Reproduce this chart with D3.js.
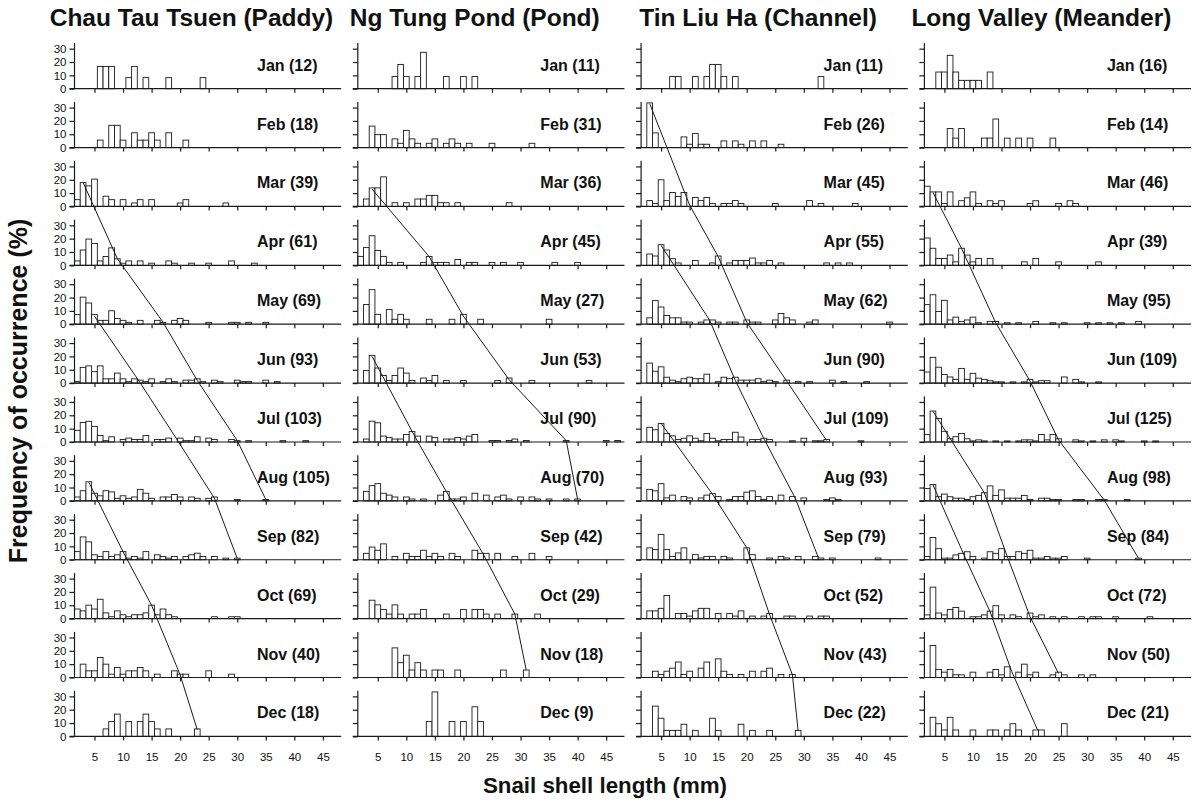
<!DOCTYPE html>
<html>
<head>
<meta charset="utf-8">
<script src="https://cdn.jsdelivr.net/npm/d3@7"></script>
<style>
  body { margin: 0; background: #fff; }
  text { font-family: "Liberation Sans", Arial, Helvetica, sans-serif; fill: #111; }
</style>
</head>
<body>
<svg id="chart" width="1198" height="803"></svg>
<script>
// ---- data -----------------------------------------------------------------
const months = ["Jan","Feb","Mar","Apr","May","Jun","Jul","Aug","Sep","Oct","Nov","Dec"];
const sites = ["Chau Tau Tsuen (Paddy)", "Ng Tung Pond (Pond)", "Tin Liu Ha (Channel)", "Long Valley (Meander)"];
const lengthTicks = [5, 10, 15, 20, 25, 30, 35, 40, 45];
const freqTicks = [0, 10, 20, 30];

// sample sizes per month
const paddyN   = [12, 18, 39, 61, 69, 93, 103, 105, 82, 69, 40, 18];
const pondN    = [11, 31, 36, 45, 27, 53, 90, 70, 42, 29, 18, 9];
const channelN = [11, 26, 45, 55, 62, 90, 109, 93, 79, 52, 43, 22];
const meanderN = [16, 14, 46, 39, 95, 109, 125, 98, 84, 72, 50, 21];

// monthly length-frequency: [shell length (mm), frequency (%)]
const paddyFreq = [
  [[6,16.7],[7,16.7],[8,16.7],[11,8.3],[12,16.7],[14,8.3],[18,8.3],[24,8.3]],
  [[6,5.6],[8,16.7],[9,16.7],[10,5.6],[12,11.1],[13,5.6],[14,5.6],[15,11.1],[16,5.6],[18,11.1],[21,5.6]],
  [[2,5.1],[3,17.9],[4,15.4],[5,20.5],[7,7.7],[8,5.1],[10,5.1],[12,2.6],[13,5.1],[15,5.1],[20,2.6],[21,5.1],[28,2.6]],
  [[2,3.3],[3,11.5],[4,19.7],[5,16.4],[6,3.3],[7,6.6],[8,13.1],[9,4.9],[10,1.6],[11,3.3],[13,3.3],[15,1.6],[18,3.3],[19,1.6],[22,1.6],[25,1.6],[29,3.3],[33,1.6]],
  [[2,7.2],[3,20.3],[4,15.9],[5,7.2],[6,2.9],[7,2.9],[8,10.1],[9,4.3],[10,2.9],[11,1.4],[13,2.9],[16,2.9],[17,1.4],[19,2.9],[20,4.3],[21,2.9],[25,1.4],[29,1.4],[30,1.4],[32,1.4],[35,1.4]],
  [[2,1.1],[3,11.8],[4,12.9],[5,8.6],[6,12.9],[7,3.2],[8,3.2],[9,7.5],[10,3.2],[11,1.1],[12,3.2],[13,2.2],[14,1.1],[15,3.2],[17,1.1],[18,3.2],[19,1.1],[21,2.2],[22,2.2],[23,3.2],[24,1.1],[26,2.2],[27,1.1],[30,2.2],[31,1.1],[32,1.1],[35,2.2],[37,1.1]],
  [[2,8.7],[3,14.6],[4,15.5],[5,11.7],[6,4.9],[7,1],[8,3.9],[10,1.9],[11,2.9],[12,1.9],[13,1.9],[14,4.9],[16,1.9],[17,1.9],[18,2.9],[20,2.9],[21,1],[22,1],[23,3.9],[25,2.9],[26,1.9],[29,1.9],[30,1],[32,1],[38,1],[42,1]],
  [[2,2.9],[3,7.6],[4,14.3],[5,5.7],[6,3.8],[7,7.6],[8,6.7],[9,1.9],[10,3.8],[11,1.9],[12,2.9],[13,8.6],[14,5.7],[15,1.9],[17,2.9],[18,2.9],[19,4.8],[20,2.9],[22,2.9],[23,1.9],[25,1.9],[26,2.9],[30,1],[35,1]],
  [[2,6.1],[3,17.1],[4,13.4],[5,3.7],[6,2.4],[7,6.1],[8,2.4],[9,3.7],[10,6.1],[11,1.2],[12,2.4],[13,1.2],[14,6.1],[16,3.7],[17,2.4],[18,1.2],[19,2.4],[21,2.4],[22,3.7],[23,4.9],[24,2.4],[26,2.4],[28,1.2],[30,1.2]],
  [[2,7.2],[3,5.8],[4,10.1],[5,7.2],[6,14.5],[7,4.3],[8,1.4],[9,5.8],[10,2.9],[11,1.4],[12,2.9],[13,2.9],[14,4.3],[15,10.1],[16,2.9],[17,7.2],[18,2.9],[19,1.4],[26,1.4],[29,1.4],[30,1.4]],
  [[3,10],[4,5],[5,5],[6,15],[7,10],[8,2.5],[9,7.5],[10,2.5],[11,5],[12,5],[13,7.5],[14,5],[16,2.5],[19,5],[20,2.5],[21,2.5],[25,5],[29,2.5]],
  [[7,5.6],[8,11.1],[9,16.7],[11,11.1],[13,11.1],[14,16.7],[15,11.1],[16,5.6],[18,5.6],[23,5.6]]
];

const pondFreq = [
  [[8,9.1],[9,18.2],[10,9.1],[12,9.1],[13,27.3],[17,9.1],[20,9.1],[22,9.1]],
  [[4,16.1],[5,9.7],[6,9.7],[8,6.5],[9,3.2],[10,12.9],[11,6.5],[12,3.2],[14,3.2],[15,6.5],[17,3.2],[18,6.5],[19,3.2],[21,3.2],[25,3.2],[32,3.2]],
  [[3,5.6],[4,13.9],[5,13.9],[6,22.2],[8,2.8],[10,2.8],[12,5.6],[13,5.6],[14,8.3],[15,8.3],[16,2.8],[17,2.8],[19,2.8],[28,2.8]],
  [[2,6.7],[3,13.3],[4,22.2],[5,11.1],[6,6.7],[7,2.2],[9,2.2],[13,2.2],[14,6.7],[15,2.2],[16,2.2],[17,2.2],[19,4.4],[21,2.2],[22,2.2],[25,2.2],[27,2.2],[30,2.2],[36,2.2],[40,2.2]],
  [[3,14.8],[4,25.9],[5,7.4],[7,11.1],[8,3.7],[9,7.4],[10,3.7],[14,3.7],[18,3.7],[20,7.4],[23,3.7],[35,3.7]],
  [[3,9.4],[4,20.8],[5,11.3],[6,5.7],[7,1.9],[8,5.7],[9,11.3],[10,7.5],[11,1.9],[13,3.8],[14,1.9],[15,5.7],[17,1.9],[20,1.9],[26,1.9],[28,3.8],[32,1.9],[42,1.9]],
  [[3,2.2],[4,15.6],[5,14.4],[6,4.4],[7,3.3],[8,2.2],[9,2.2],[10,5.6],[11,7.8],[12,4.4],[14,4.4],[15,3.3],[17,2.2],[18,2.2],[19,3.3],[20,2.2],[21,4.4],[22,5.6],[25,1.1],[26,1.1],[28,1.1],[29,2.2],[31,1.1],[38,1.1],[45,1.1],[47,1.1]],
  [[3,7.1],[4,11.4],[5,12.9],[6,5.7],[7,4.3],[8,2.9],[10,2.9],[11,1.4],[13,1.4],[16,4.3],[17,7.1],[18,1.4],[19,1.4],[20,2.9],[22,5.7],[24,4.3],[26,2.9],[27,4.3],[28,1.4],[30,2.9],[32,2.9],[33,1.4],[35,1.4],[38,1.4],[40,1.4]],
  [[3,4.8],[4,9.5],[5,7.1],[6,11.9],[8,2.4],[10,4.8],[11,2.4],[12,2.4],[13,7.1],[14,2.4],[15,4.8],[16,2.4],[18,4.8],[19,2.4],[22,7.1],[23,4.8],[24,4.8],[26,4.8],[29,2.4],[32,4.8],[35,2.4]],
  [[4,13.8],[5,10.3],[6,6.9],[7,3.4],[8,10.3],[9,3.4],[11,3.4],[12,3.4],[13,6.9],[17,3.4],[20,6.9],[22,6.9],[23,6.9],[24,3.4],[26,3.4],[29,3.4],[33,3.4]],
  [[8,22.2],[9,11.1],[10,16.7],[11,5.6],[12,11.1],[13,5.6],[15,5.6],[16,5.6],[19,5.6],[27,5.6],[31,5.6]],
  [[14,11.1],[15,33.3],[18,11.1],[20,11.1],[22,22.2],[23,11.1]]
];

const channelFreq = [
  [[7,9.1],[8,9.1],[11,9.1],[13,9.1],[14,18.2],[15,18.2],[16,9.1],[18,9.1],[33,9.1]],
  [[3,33.5],[4,11],[9,8],[10,2.5],[11,10.5],[12,2.5],[13,2.5],[16,5],[18,5],[19,2.5],[21,5],[23,5],[26,2.5]],
  [[3,4.4],[4,2.2],[5,20],[6,4.4],[7,10.5],[8,7.5],[9,10.5],[11,6.7],[12,4.4],[13,6.7],[14,2.2],[16,2.2],[17,2.2],[18,4.4],[19,2.2],[25,2.2],[31,4.4],[33,2.2],[39,2.2]],
  [[3,8.5],[4,7],[5,15.5],[6,11.5],[7,5],[8,1.8],[11,3.6],[14,1.8],[15,7],[17,1.8],[18,3.6],[19,3.6],[20,3.6],[21,5.5],[22,1.8],[23,1.8],[24,3.6],[26,1.8],[34,1.8],[36,1.8],[38,1.8]],
  [[3,4.8],[4,17.7],[5,12.9],[6,6.5],[7,4.8],[8,4.8],[9,1.6],[10,1.6],[12,1.6],[13,3.2],[14,3.2],[15,1.6],[17,1.6],[18,1.6],[20,3.2],[21,1.6],[22,1.6],[25,3.2],[26,8.1],[27,4.8],[28,3.2],[31,1.6],[32,3.2],[45,1.6]],
  [[3,15],[4,8.9],[5,12.2],[6,4.4],[7,2.2],[8,1.1],[9,3.3],[10,4.4],[11,3.3],[12,3.3],[13,6.7],[15,1.1],[16,4.4],[17,3.3],[18,4.4],[19,2.2],[20,2.2],[21,2.2],[22,3.3],[23,1.1],[24,2.2],[25,1.1],[27,2.2],[29,1.1],[31,1.1],[35,2.2],[37,1.1],[41,1.1]],
  [[3,11],[4,9.2],[5,13.8],[6,6.4],[7,4.6],[8,1.8],[9,2.8],[10,4.6],[11,2.8],[12,0.9],[13,6.4],[14,2.8],[15,0.9],[16,1.8],[17,1.8],[18,7.3],[19,3.7],[21,1.8],[22,1.8],[23,2.8],[24,1.8],[28,0.9],[30,2.8],[32,0.9],[33,0.9],[34,1.8],[40,0.9]],
  [[3,8.6],[4,7.5],[5,12.9],[6,2.2],[7,4.3],[9,3.2],[10,2.2],[12,2.2],[13,4.3],[14,5.4],[15,3.2],[17,1.1],[18,3.2],[19,3.2],[20,6.5],[21,7.5],[22,3.2],[23,1.1],[24,3.2],[26,4.3],[28,3.2],[30,2.2],[34,1.1],[35,2.2],[36,1.1]],
  [[3,8.9],[4,7.6],[5,19],[6,7.6],[7,2.5],[8,5.1],[9,8.9],[11,3.8],[12,1.3],[13,2.5],[14,2.5],[16,2.5],[17,1.3],[20,8.9],[21,3.8],[24,1.3],[26,2.5],[27,1.3],[29,2.5],[32,2.5],[33,1.3],[35,1.3],[43,1.3]],
  [[3,5.8],[4,5.8],[5,7.7],[6,17.3],[8,3.8],[9,3.8],[10,1.9],[11,5.8],[12,7.7],[13,7.7],[15,3.8],[17,3.8],[18,1.9],[19,5.8],[21,1.9],[23,1.9],[24,3.8],[27,1.9],[28,1.9],[31,1.9],[33,1.9],[34,1.9]],
  [[4,4.7],[5,2.3],[6,4.7],[7,7],[8,11.6],[9,2.3],[10,4.7],[12,7],[13,11.6],[15,14],[16,4.7],[17,2.3],[19,2.3],[21,4.7],[23,4.7],[24,7],[26,2.3],[28,2.3]],
  [[4,22.7],[5,13.6],[6,4.5],[7,4.5],[8,4.5],[9,9.1],[11,4.5],[14,13.6],[15,4.5],[19,9.1],[21,4.5],[24,4.5],[29,4.5]]
];

const meanderFreq = [
  [[4,12.5],[5,12.5],[6,25],[7,12.5],[8,6.25],[9,6.25],[10,6.25],[11,6.25],[13,12.5]],
  [[6,14.3],[7,7.1],[8,14.3],[12,7.1],[13,7.1],[14,21.4],[16,7.1],[18,7.1],[20,7.1],[24,7.1]],
  [[2,15.2],[3,10.9],[4,10.9],[5,2.2],[6,10.9],[8,4.3],[9,6.5],[10,10.9],[11,2.2],[13,4.3],[14,2.2],[15,4.3],[20,2.2],[21,4.3],[25,2.2],[27,4.3],[28,2.2]],
  [[2,20.5],[3,12.8],[4,5.1],[5,5.1],[6,7.7],[7,2.6],[8,12.8],[9,7.7],[10,2.6],[11,5.1],[13,5.1],[19,2.6],[21,5.1],[25,2.6],[32,2.6]],
  [[2,14.7],[3,22.1],[4,9.5],[5,17.9],[6,3.2],[7,5.3],[8,2.1],[9,3.2],[10,5.3],[11,1.1],[13,2.1],[14,2.1],[16,1.1],[18,1.1],[21,2.1],[24,1.1],[26,1.1],[30,1.1],[32,1.1],[34,1.1],[36,1.1],[39,2.1]],
  [[2,8.3],[3,19.3],[4,11.9],[5,6.4],[6,4.6],[7,2.8],[8,11],[9,2.8],[10,7.3],[11,3.7],[12,2.8],[13,1.8],[14,0.9],[15,0.9],[17,0.9],[19,0.9],[20,2.8],[21,0.9],[22,1.8],[23,1.8],[26,4.6],[28,2.8],[29,0.9],[32,0.9]],
  [[2,5.6],[3,23.2],[4,17.6],[5,8],[6,2.4],[7,4],[8,6.4],[9,2.4],[10,0.8],[11,1.6],[12,0.8],[14,0.8],[16,0.8],[18,0.8],[19,1.6],[20,1.6],[21,0.8],[22,5.6],[23,1.6],[24,5.6],[25,2.4],[28,1.6],[29,0.8],[31,0.8],[33,1.6],[35,1.6],[36,0.8],[40,0.8],[42,0.8]],
  [[2,9.2],[3,12.2],[4,3.1],[5,5.1],[6,3.1],[7,2],[8,2],[9,1],[10,3.1],[11,4.1],[12,6.1],[13,11.2],[14,4.1],[15,8.2],[16,2],[17,2],[18,2],[19,4.1],[20,1],[22,2],[23,2],[24,1],[25,1],[28,1],[29,1],[32,1],[33,1],[37,1]],
  [[2,2.4],[3,16.7],[4,8.3],[5,1.2],[6,1.2],[7,3.6],[8,4.8],[9,6],[10,2.4],[12,1.2],[13,6],[14,4.8],[15,8.3],[16,2.4],[17,2.4],[18,6],[19,4.8],[20,7.1],[21,1.2],[22,1.2],[23,2.4],[24,1.2],[25,1.2],[26,2.4],[30,1.2],[39,1.2]],
  [[2,2.8],[3,23.6],[4,4.2],[5,2.8],[6,6.9],[7,8.3],[8,5.6],[10,1.4],[11,1.4],[12,2.8],[13,5.6],[14,9.7],[15,2.8],[17,2.8],[18,1.4],[20,4.2],[21,1.4],[22,2.8],[24,1.4],[26,1.4],[29,1.4],[31,1.4],[32,1.4],[35,1.4],[41,1.4]],
  [[3,24],[4,6],[5,4],[6,6],[7,2],[8,2],[10,4],[13,4],[14,6],[15,2],[16,8],[18,4],[19,10],[20,2],[21,4],[24,2],[25,4],[26,2],[29,2],[31,2]],
  [[3,14.3],[4,9.5],[5,4.8],[6,14.3],[7,4.8],[10,4.8],[13,4.8],[14,4.8],[16,4.8],[17,9.5],[18,4.8],[21,4.8],[22,4.8],[26,9.5]]
];

// cohort growth tracks: [month index, shell length (mm), frequency (%)]
const paddyCohorts = [
  [[2,3,18],[3,9,5],[4,17,1.5],[5,23,2],[6,30,1],[7,35,1]],
  [[4,5,6],[5,12.8,1.5],[6,19.5,1.5],[7,26,2],[8,30,1]],
  [[7,4,14],[8,10,6],[9,15,10],[10,20,2],[11,23,5]]
];
const pondCohorts = [
  [[2,4,13],[3,14,6.5],[4,20,6],[5,28,2.5],[6,38,1],[7,40,1]],
  [[5,4,20],[6,11.5,4],[7,17,7],[8,23.5,4],[9,29,3.4],[10,31,5.6]]
];
const channelCohorts = [
  [[1,3,33],[2,10,1],[3,15,6.5],[4,20,1.5],[5,27,1.5],[6,34,1]],
  [[3,5,15],[4,13.5,3],[5,18,2],[6,23,2.5],[7,28.5,2],[8,32.5,2]],
  [[6,5,14],[7,14,5],[8,20,9],[9,24,3],[10,28,2],[11,29,4]]
];
const meanderCohorts = [
  [[2,3,10.5],[3,8,12.8],[4,14,1],[5,20,1.5],[6,25,1.5],[7,33,0.5],[8,39,1]],
  [[6,3,23],[7,12,6],[8,16,2.5],[9,20,1.5],[10,25,3]],
  [[7,3,12],[8,8.5,3],[9,13,5.2],[10,16.8,4.4],[11,21.3,5]]
];

// ---- layout -----------------------------------------------------------------
const columns = [
  { title: sites[0], n: paddyN,   freq: paddyFreq,   cohorts: paddyCohorts },
  { title: sites[1], n: pondN,    freq: pondFreq,    cohorts: pondCohorts },
  { title: sites[2], n: channelN, freq: channelFreq, cohorts: channelCohorts },
  { title: sites[3], n: meanderN, freq: meanderFreq, cohorts: meanderCohorts }
];

const colStart = 74.5, colStep = 283.3, mmPx = 5.71;   // horizontal layout
const rowStart = 88.7, rowStep = 58.88, pctPx = 1.334; // vertical layout
const lenMin = 1.5, lenMax = 48.2, axisTop = 34.2;
const ink = "#1a1a1a";

const svg = d3.select("#chart");

const xScales = columns.map((c, i) => {
  const left = colStart + i * colStep;
  return d3.scaleLinear().domain([lenMin, lenMax]).range([left, left + (lenMax - lenMin) * mmPx]);
});
const yScales = months.map((m, r) => {
  const base = rowStart + r * rowStep;
  return d3.scaleLinear().domain([0, 35]).range([base, base - 35 * pctPx]);
});

columns.forEach((col, ci) => {
  const x = xScales[ci];
  const g = svg.append("g");

  // column heading
  g.append("text")
    .attr("x", x(lenMin) + 117).attr("y", 26)
    .attr("text-anchor", "middle")
    .style("font-size", "24.5px").style("font-weight", "bold")
    .text(col.title);

  months.forEach((m, r) => {
    const y = yScales[r];
    const panel = g.append("g");

    // histogram bars, 1-mm bins centred on the length value
    panel.selectAll("rect").data(col.freq[r]).join("rect")
      .attr("x", d => x(d[0] - 0.5))
      .attr("width", d => x(d[0] + 0.5) - x(d[0] - 0.5))
      .attr("y", d => y(d[1]))
      .attr("height", d => y(0) - y(d[1]))
      .attr("fill", "#fff").attr("stroke", ink).attr("stroke-width", 0.9);

    // x axis
    const xAxis = d3.axisBottom(x).tickValues(lengthTicks).tickSize(4).tickPadding(12.5)
      .tickFormat(r === months.length - 1 ? d3.format("d") : () => "");
    panel.append("g").attr("transform", `translate(0,${y(0)})`).call(xAxis)
      .call(a => a.select(".domain").attr("d", `M${x(lenMin) - 5},0H${x(lenMax)}`))
      .call(a => a.selectAll("line, path").attr("stroke", ink).attr("stroke-width", 1.2))
      .call(a => a.selectAll("text").style("font-size", "11.5px").style("font-family", "'Liberation Sans', Arial, sans-serif").attr("fill", "#222"));

    // y axis
    const yAxis = d3.axisLeft(y).tickValues(freqTicks).tickSize(5).tickPadding(3)
      .tickFormat(ci === 0 ? d3.format("d") : () => "");
    panel.append("g").attr("transform", `translate(${x(lenMin)},0)`).call(yAxis)
      .call(a => a.select(".domain").attr("d", `M0,${y(0)}V${y(axisTop)}`))
      .call(a => a.selectAll("line, path").attr("stroke", ink).attr("stroke-width", 1.2))
      .call(a => a.selectAll("text").style("font-size", "11.5px").style("font-family", "'Liberation Sans', Arial, sans-serif").attr("fill", "#222"));

    // month label with sample size
    panel.append("text")
      .attr("x", x(lenMin) + 182.5).attr("y", y(0) - 18)
      .style("font-size", "16px").style("font-weight", "bold")
      .text(`${m} (${col.n[r]})`);
  });

  // cohort progression lines across months
  const line = d3.line().x(d => x(d[1])).y(d => yScales[d[0]](d[2]));
  g.selectAll("path.cohort").data(col.cohorts).join("path")
    .attr("class", "cohort")
    .attr("d", line)
    .attr("fill", "none").attr("stroke", ink).attr("stroke-width", 1);
});

// shared axis titles
svg.append("text")
  .attr("x", 605).attr("y", 793)
  .attr("text-anchor", "middle")
  .style("font-size", "22.3px").style("font-weight", "bold")
  .text("Snail shell length (mm)");

svg.append("text")
  .attr("transform", "translate(27,391) rotate(-90)")
  .attr("text-anchor", "middle")
  .style("font-size", "25px").style("font-weight", "bold")
  .text("Frequency of occurrence (%)");
</script>
</body>
</html>
